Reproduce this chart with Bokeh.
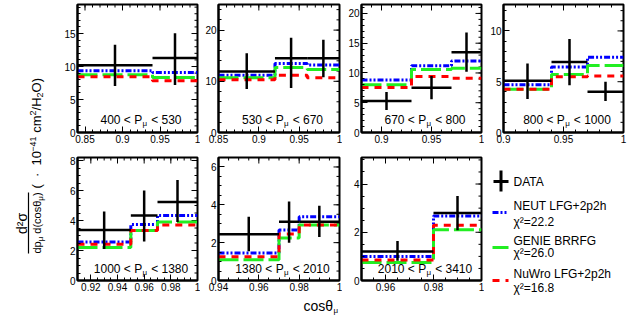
import numpy as np
from bokeh.plotting import figure
from bokeh.models import Range1d, FixedTicker, LinearAxis, NumeralTickFormatter
from bokeh.layouts import row, column
from bokeh.embed import file_html
from bokeh.resources import INLINE
from bokeh.core.properties import value

# ---------------- data ----------------
p_low = [400, 530, 670, 800, 1000, 1380, 2010]
p_high = [530, 670, 800, 1000, 1380, 2010, 3410]

bin_edges = [
    [0.84, 0.94, 1.0],
    [0.85, 0.92, 0.96, 1.0],
    [0.88, 0.93, 0.97, 1.0],
    [0.90, 0.94, 0.97, 1.0],
    [0.91, 0.95, 0.97, 1.0],
    [0.94, 0.97, 0.98, 1.0],
    [0.95, 0.98, 1.0],
]
data_xsec = [
    [10.2, 11.3],
    [11.9, 14.5, 14.5],
    [5.3, 7.5, 13.5],
    [5.1, 6.95, 4.0],
    [3.36, 4.33, 5.23],
    [2.45, 3.1, 3.1],
    [1.2, 2.8],
]
data_err_up = [
    [3.1, 3.75],
    [3.6, 4.0, 3.6],
    [1.5, 2.0, 3.3],
    [1.7, 2.25, 1.0],
    [1.24, 1.67, 1.47],
    [0.92, 1.08, 0.85],
    [0.44, 0.7],
]
data_err_dn = [
    [3.15, 4.1],
    [3.4, 5.8, 3.7],
    [1.5, 1.9, 3.3],
    [1.8, 2.3, 0.9],
    [1.26, 1.73, 1.33],
    [0.9, 1.1, 0.8],
    [0.38, 0.72],
]
neut = [
    [9.35, 9.1],
    [11.2, 13.5, 13.2],
    [8.8, 11.2, 12.0],
    [4.7, 6.45, 7.4],
    [2.57, 3.74, 4.33],
    [1.45, 2.67, 3.37],
    [1.0, 2.67],
]
genie = [
    [8.75, 8.35],
    [10.7, 12.7, 12.3],
    [8.0, 10.6, 10.8],
    [4.25, 5.7, 6.6],
    [2.2, 3.34, 3.9],
    [1.1, 2.25, 2.93],
    [0.75, 2.1],
]
nuwro = [
    [8.45, 7.85],
    [10.3, 11.2, 10.7],
    [7.55, 9.4, 9.1],
    [4.25, 5.5, 5.55],
    [2.42, 3.34, 3.7],
    [1.26, 2.46, 2.93],
    [0.85, 2.29],
]
model_names = ["NEUT LFG+2p2h", "GENIE BRRFG", "NuWro LFG+2p2h"]
model_chi2 = ["22.2", "26.0", "16.8"]

x_ranges = [(0.84, 1.0), (0.85, 1.0), (0.88, 1.0), (0.90, 1.0), (0.91, 1.0), (0.94, 1.0), (0.95, 1.0)]
y_tops = [19.4, 25.0, 21.5, 12.6, 8.2, 6.5, 5.1]
x_major = [
    [0.85, 0.9, 0.95, 1.0],
    [0.85, 0.9, 0.95, 1.0],
    [0.9, 0.95, 1.0],
    [0.9, 0.95, 1.0],
    [0.92, 0.94, 0.96, 0.98, 1.0],
    [0.94, 0.96, 0.98, 1.0],
    [0.96, 0.98, 1.0],
]
y_major = [
    [0, 5, 10, 15],
    [0, 10, 20],
    [0, 5, 10, 15, 20],
    [0, 5, 10],
    [0, 2, 4, 6, 8],
    [0, 2, 4, 6],
    [0, 2, 4],
]
x_minor_step = [0.01, 0.01, 0.01, 0.01, 0.005, 0.005, 0.005]
y_minor_step = [1, 2, 1, 1, 0.5, 0.5, 0.5]

# ---------------- style ----------------
FONT = "Liberation Sans"
COLORS = ["#0000ff", "#22ee22", "#ff0000"]
DASHES = ["6 2 2 2 2 2", "20 5", "7 6"]
NB = "\u00a0"   # non-breaking space (not collapsed in SVG text)

AW = {' ': 278, NB: 278, '<': 584, 'P': 667, 'μ': 576, 'c': 500, 'o': 556, 's': 500, 'θ': 556,
      'd': 556, 'p': 556, '(': 333, ')': 333, '·': 278, '−': 584, 'm': 833, '/': 278,
      'H': 722, 'O': 778, '²': 333, 'σ': 600}


def tw(s, size):
    return sum(AW.get(ch, 556) for ch in s) * size / 1000.0


def add_text(p, xs, ys, texts, size, align="left", baseline="middle", angle=0.0):
    p.text(x=xs, y=ys, text=texts, text_font=value(FONT), text_font_size=value(f"{size}px"),
           text_align=align, text_baseline=baseline, angle=angle, text_color="black")


def minor_list(a, b, step):
    n = int(round((b - a) / step))
    return [round(a + k * step, 5) for k in range(n + 1)]


def style_axis(ax):
    ax.major_tick_in = 6
    ax.major_tick_out = 0
    ax.minor_tick_in = 3
    ax.minor_tick_out = 0
    ax.axis_line_width = 2
    ax.axis_line_color = "black"
    ax.major_tick_line_color = "black"
    ax.minor_tick_line_color = "black"
    ax.major_label_text_font = FONT
    ax.major_label_text_color = "black"
    ax.major_label_text_font_size = "10px"
    ax.major_label_standoff = 2


def add_axes(p, i, fw, fh):
    x0, x1 = x_ranges[i]
    yt = y_tops[i]
    xmin = minor_list(x0, x1, x_minor_step[i])
    ymin = minor_list(0, yt, y_minor_step[i])
    xt = FixedTicker(ticks=x_major[i], minor_ticks=xmin)
    ytk = FixedTicker(ticks=y_major[i], minor_ticks=ymin)
    axb = LinearAxis(ticker=xt, formatter=NumeralTickFormatter(format="0.[00]"))
    axl = LinearAxis(ticker=ytk, formatter=NumeralTickFormatter(format="0.[0]"))
    style_axis(axb)
    style_axis(axl)
    p.add_layout(axb, "below")
    p.add_layout(axl, "left")
    # mirrored ticks on the top and right frame edges
    sx = (x1 - x0) / fw
    sy = yt / fh
    p.segment(x0=x_major[i], x1=x_major[i], y0=[yt] * len(x_major[i]), y1=[yt - 6 * sy] * len(x_major[i]),
              line_color="black", line_width=1)
    p.segment(x0=xmin, x1=xmin, y0=[yt] * len(xmin), y1=[yt - 3 * sy] * len(xmin),
              line_color="black", line_width=1)
    p.segment(x0=[x1] * len(y_major[i]), x1=[x1 - 6 * sx] * len(y_major[i]), y0=y_major[i], y1=y_major[i],
              line_color="black", line_width=1)
    p.segment(x0=[x1] * len(ymin), x1=[x1 - 3 * sx] * len(ymin), y0=ymin, y1=ymin,
              line_color="black", line_width=1)


def make_panel(i, lb, rb, tb, bb, fw, fh, lab_dy):
    x0, x1 = x_ranges[i]
    yt = y_tops[i]
    p = figure(width=lb + fw + rb, height=tb + fh + bb, x_range=Range1d(x0, x1), y_range=Range1d(0, yt),
               x_axis_type=None, y_axis_type=None, output_backend="svg", toolbar_location=None,
               min_border_left=lb, min_border_right=rb, min_border_top=tb, min_border_bottom=bb,
               outline_line_color="black", outline_line_width=2, background_fill_color="white",
               border_fill_color="white")
    add_axes(p, i, fw, fh)
    e = bin_edges[i]
    for vals, c, d in zip([neut[i], genie[i], nuwro[i]], COLORS, DASHES):
        p.step(x=e, y=list(vals) + [vals[-1]], mode="after", line_color=c, line_width=3, line_dash=d)
    dv = np.array(data_xsec[i])
    up = np.array(data_err_up[i])
    dn = np.array(data_err_dn[i])
    lo = np.array(e[:-1])
    hi = np.array(e[1:])
    cen = (lo + hi) / 2
    p.segment(x0=lo, x1=hi, y0=dv, y1=dv, line_color="black", line_width=2.5)
    p.segment(x0=cen, x1=cen, y0=dv - dn, y1=dv + up, line_color="black", line_width=2.5)
    # label "lo < P_mu < hi"
    s1 = f"{p_low[i]} < P"
    s3 = f"{NB}< {p_high[i]}"
    w1, w2, w3 = tw(s1, 12), tw("μ", 8) + 1.0, tw(s3, 12)
    total = w1 + w2 + w3
    left_px = fw / 2 + 3.5 - total / 2
    sx = (x1 - x0) / fw
    sy = yt / fh
    add_text(p, [x0 + left_px * sx], [lab_dy * sy], [s1], 12)
    add_text(p, [x0 + (left_px + w1 + 0.3) * sx], [(lab_dy - 3.5) * sy], ["μ"], 8)
    add_text(p, [x0 + (left_px + w1 + w2) * sx], [lab_dy * sy], [s3], 12)
    return p


# geometry: (left border, right border, frame width)
cols = [(21, 3, 120), (18, 3, 121), (19, 3, 120), (19, 5, 120)]
TOP = (4, 23, 128)   # top border, bottom border, frame height
BOT = (2, 16, 123)

top_panels = [make_panel(i, cols[i][0], cols[i][1], TOP[0], TOP[1], cols[i][2], TOP[2], 12.5) for i in range(4)]
bot_panels = [make_panel(4 + j, cols[j][0], cols[j][1], BOT[0], BOT[1], cols[j][2], BOT[2], 12.0) for j in range(3)]


def unalign(f):
    try:
        f.frame_align = False
        return True
    except Exception:
        return False


def blank_fig(w, h, l=0, r=0, t=0, b=0):
    # data coordinates = pixels from the figure's left edge / bottom edge
    f = figure(width=w, height=h, x_range=Range1d(l, w - r), y_range=Range1d(b, h - t), x_axis_type=None,
               y_axis_type=None, output_backend="svg", toolbar_location=None, min_border=0,
               min_border_left=l, min_border_right=r, min_border_top=t, min_border_bottom=b,
               outline_line_color=None, background_fill_color="white", border_fill_color="white")
    return f


# ---------------- legend ----------------
LW = cols[3][0] + cols[3][2] + cols[3][1]
LH = BOT[0] + BOT[1] + BOT[2]
leg = blank_fig(LW, LH)
if unalign(leg):
    dx, dy = 0.0, 0.0
else:
    leg = blank_fig(LW, LH, cols[3][0], cols[3][1], BOT[0], BOT[1])
    dx, dy = 11.0, -13.0
Y = lambda s: LH - (s + dy)
X = lambda s: s + dx
leg.segment(x0=[X(9)], x1=[X(24)], y0=[Y(26)], y1=[Y(26)], line_color="black", line_width=3)
leg.segment(x0=[X(16.5)], x1=[X(16.5)], y0=[Y(15)], y1=[Y(36)], line_color="black", line_width=3)
add_text(leg, [X(29)], [Y(26)], ["DATA"], 12)
name_y = [50, 85, 118]
chi_y = [66, 97.5, 132.5]
samp_y = [57, 92, 125]
for k in range(3):
    leg.segment(x0=[X(8)], x1=[X(24)], y0=[Y(samp_y[k])], y1=[Y(samp_y[k])], line_color=COLORS[k],
                line_width=3, line_dash=DASHES[k] if k != 1 else "solid")
    add_text(leg, [X(29)], [Y(name_y[k])], [model_names[k]], 12)
    add_text(leg, [X(29)], [Y(chi_y[k])], [f"χ²={model_chi2[k]}"], 12)

# ---------------- x axis title strip ----------------
YW = 56
SW = sum(c[0] + c[1] + c[2] for c in cols)
SH = 315 - (TOP[0] + TOP[1] + TOP[2]) - LH
strip = blank_fig(SW, SH)
unalign(strip)
cx = 303 - YW
add_text(strip, [cx], [SH - 9.5], ["cosθ"], 14)
add_text(strip, [cx + tw("cosθ", 14) + 0.5], [SH - 14], ["μ"], 8)

# ---------------- y axis title ----------------
YH = 315
ylab = blank_fig(YW, YH)
unalign(ylab)
YY = lambda s: YH - s
A = np.pi / 2
add_text(ylab, [21.5], [YY(223)], ["d²σ"], 14, align="center", angle=A)
ylab.segment(x0=[28], x1=[28], y0=[YY(192)], y1=[YY(253)], line_color="black", line_width=1.2)
den = [("dp", 11, 0), ("μ", 8, 3), (NB + "d(cosθ", 11, 0), ("μ", 8, 3), (")", 11, 0)]
den_total = sum(tw(s, fs) for s, fs, _ in den)
cum = 0.0
for s, fs, ddx in den:
    add_text(ylab, [36.5 + ddx], [YY(222.5 + den_total / 2 - cum)], [s], fs, angle=A)
    cum += tw(s, fs)
par = [("(" + NB * 2 + "·" + NB * 2 + "10", 13, 0), ("−41", 9, -3.5), (NB + "cm", 13, 0), ("2", 9, -3.5),
       ("/H", 13, 0), ("2", 9, 3.5), ("O)", 13, 0)]
cum = 0.0
for s, fs, ddx in par:
    add_text(ylab, [36 + ddx], [YY(188 - cum)], [s], fs, angle=A)
    cum += tw(s, fs)

layout = row(ylab, column(row(*top_panels), row(*bot_panels, leg), strip))

open("out.html", "w").write(file_html(layout, INLINE))
